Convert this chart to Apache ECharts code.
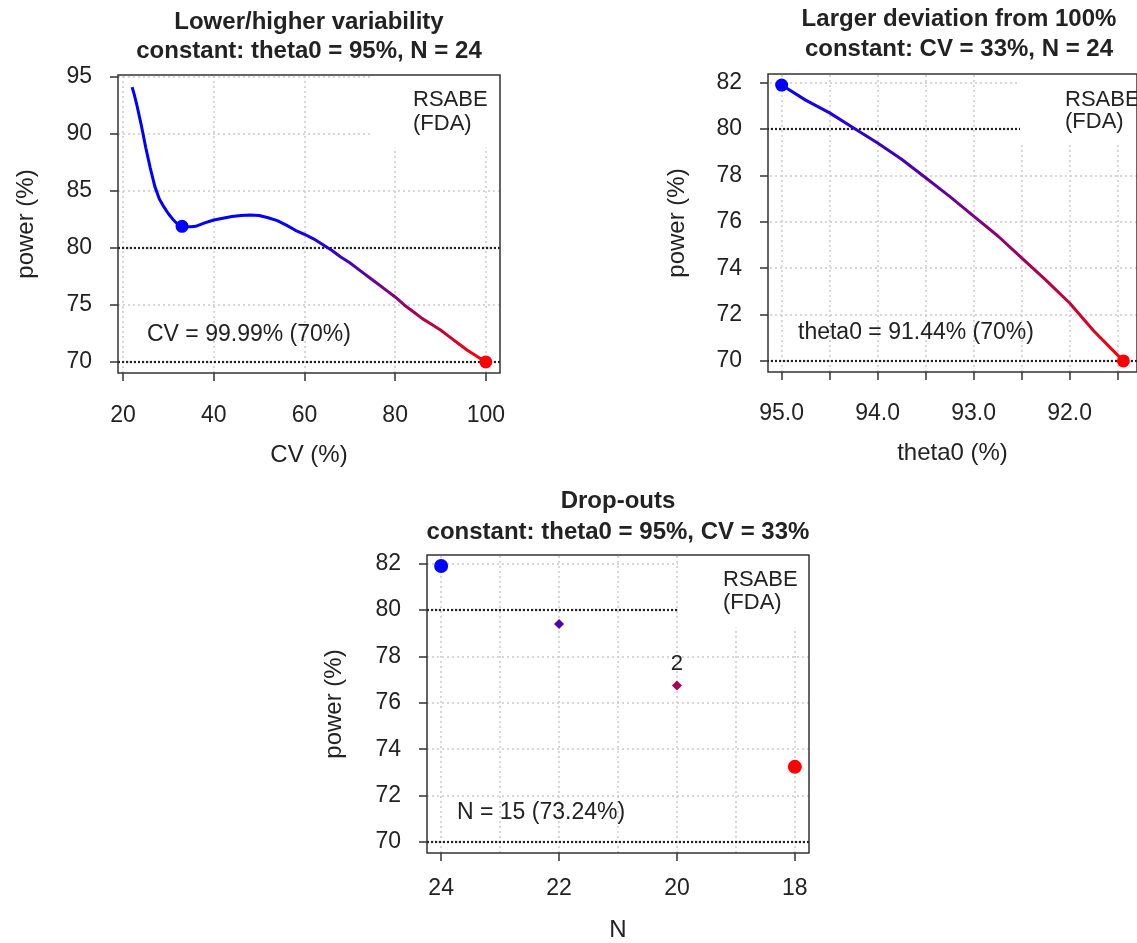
<!DOCTYPE html>
<html>
<head>
<meta charset="utf-8">
<title>Power analysis RSABE (FDA)</title>
<script src="https://cdn.jsdelivr.net/npm/echarts@6/dist/echarts.min.js"></script>
<style>
html, body { margin: 0; padding: 0; background: #fff; }
#chart { width: 1137px; height: 943px; }
</style>
</head>
<body>
<div id="chart"></div>
<script>
// panel 1: lower/higher variability
const cvValues = [22, 22.5, 23, 24, 25, 26, 27, 28, 29, 30, 31, 32, 33, 34, 35, 36, 38, 40, 42, 44, 46, 48, 50,
  52, 54, 56, 58, 60, 62, 64, 66, 68, 70, 72, 74, 76, 78, 80, 82, 84, 86, 88, 90, 92, 94, 96, 98, 100];
const cvPower = [94.1, 93.4, 92.6, 90.8, 88.8, 87.0, 85.4, 84.3, 83.6, 83.0, 82.5, 82.1, 81.9, 81.85, 81.85, 81.9,
  82.2, 82.45, 82.6, 82.75, 82.85, 82.9, 82.85, 82.65, 82.4, 82.0, 81.55, 81.2, 80.8, 80.3, 79.8, 79.2, 78.7,
  78.1, 77.5, 76.9, 76.3, 75.7, 75.0, 74.4, 73.8, 73.3, 72.8, 72.2, 71.6, 71.0, 70.5, 70.0];
const cvEnds = [[33, 81.9], [99.99, 70]];

// panel 2: larger deviation from 100%
const thetaValues = [95.0, 94.75, 94.5, 94.25, 94.0, 93.75, 93.5, 93.25, 93.0, 92.75, 92.5, 92.25, 92.0, 91.75, 91.5, 91.44];
const thetaPower = [81.9, 81.25, 80.7, 80.05, 79.4, 78.7, 77.9, 77.1, 76.25, 75.4, 74.45, 73.5, 72.5, 71.3, 70.25, 70.0];
const thetaEnds = [[95, 81.9], [91.44, 70]];

// panel 3: drop-outs
const dropN = [24, 22, 20, 18];
const dropPower = [81.9, 79.4, 76.75, 73.24];
const dropLabels = ['', '', '2', ''];

// ticks, grid lines, reference power (target / minimum)
const cvTicks = [20, 40, 60, 80, 100];
const power1Ticks = [70, 75, 80, 85, 90, 95];
const thetaTicks = [95, 94.5, 94, 93.5, 93, 92.5, 92, 91.5];
const thetaLabels = [95, 94, 93, 92];
const power2Ticks = [70, 72, 74, 76, 78, 80, 82];
const nTicks = [24, 22, 20, 18];
const nGrid = [24, 23, 22, 21, 20, 19, 18];
const refPower = [80, 70];

const FONT = '"Liberation Sans", Arial, sans-serif';
const TXT = '#222';

const chart = echarts.init(document.getElementById('chart'));

function xAx(i, min, max, ticks, labels, name, nameGap, margin, inverse, fmt) {
  return {
    type: 'value', gridIndex: i, min: min, max: max, inverse: inverse,
    name: name, nameLocation: 'middle', nameGap: nameGap,
    nameTextStyle: { fontFamily: FONT, fontSize: 24, color: TXT },
    axisLine: { show: false },
    axisTick: { show: true, length: 8, customValues: ticks, lineStyle: { color: '#333', width: 1.5 } },
    axisLabel: { customValues: labels, margin: margin, fontFamily: FONT, fontSize: 23, color: TXT, formatter: fmt },
    splitLine: { show: false }
  };
}
function yAx(i, min, max, ticks, nameGap) {
  return {
    type: 'value', gridIndex: i, min: min, max: max,
    name: 'power (%)', nameLocation: 'middle', nameGap: nameGap,
    nameTextStyle: { fontFamily: FONT, fontSize: 24, color: TXT },
    axisLine: { show: false },
    axisTick: { show: true, length: 8, customValues: ticks, lineStyle: { color: '#333', width: 1.5 } },
    axisLabel: { customValues: ticks, margin: 26, fontFamily: FONT, fontSize: 23, color: TXT },
    splitLine: { show: false }
  };
}
function gridLines(i, xs, ys) {
  return {
    type: 'line', xAxisIndex: i, yAxisIndex: i, data: [], z: 1, silent: true,
    markLine: {
      z: 1, symbol: 'none', silent: true, animation: false, label: { show: false },
      lineStyle: { color: '#cacaca', type: [2, 3], width: 1.5 },
      data: xs.map(v => ({ xAxis: v })).concat(ys.map(v => ({ yAxis: v })))
    }
  };
}
function refLines(i) {
  return {
    type: 'line', xAxisIndex: i, yAxisIndex: i, data: [], z: 1, silent: true,
    markLine: {
      z: 1, symbol: 'none', silent: true, animation: false, label: { show: false },
      lineStyle: { color: '#222', type: [2, 2], width: 2.2 },
      data: refPower.map(v => ({ yAxis: v }))
    }
  };
}
function txt(x, y, s, size, bold, align) {
  return {
    type: 'text', x: x, y: y, z: 10,
    style: {
      text: s, fill: TXT, textAlign: align || 'left', textVerticalAlign: 'middle',
      font: (bold ? 'bold ' : '') + size + 'px ' + FONT
    }
  };
}
function whiteBox(x, y, w, h) {
  return { type: 'rect', z: 2, shape: { x: x, y: y, width: w, height: h }, style: { fill: '#fff' } };
}

// the box border is drawn above everything else
const gridBox = { show: true, borderColor: '#333', borderWidth: 1.5, backgroundColor: 'transparent', z: 5 };
const dotStyle = { opacity: 1 };

const option = {
  animation: false,
  backgroundColor: '#fff',
  grid: [
    Object.assign({ left: 118, top: 75, width: 382, height: 298 }, gridBox),
    Object.assign({ left: 768, top: 74, width: 382, height: 298 }, gridBox),
    Object.assign({ left: 427, top: 555, width: 382, height: 298 }, gridBox)
  ],
  xAxis: [
    xAx(0, 18.88, 103.12, cvTicks, cvTicks, 'CV (%)', 70, 31, false),
    xAx(1, 91.298, 95.142, thetaTicks, thetaLabels, 'theta0 (%)', 69, 30, true, v => v.toFixed(1)),
    xAx(2, 17.76, 24.24, nTicks, nTicks, 'N', 65, 24, true)
  ],
  yAxis: [
    yAx(0, 69.03, 95.17, power1Ticks, 80),
    yAx(1, 69.524, 82.376, power2Ticks, 79),
    yAx(2, 69.524, 82.376, power2Ticks, 81)
  ],
  visualMap: [
    { type: 'continuous', show: false, seriesIndex: [6, 7, 8, 9], dimension: 1, min: 70, max: 82,
      inRange: { color: ['#ff0000', '#0000ff'] } },
    { type: 'continuous', show: false, seriesIndex: [10], dimension: 0, min: 18, max: 24,
      inRange: { color: ['#ff0000', '#0000ff'] } }
  ],
  series: [
    gridLines(0, cvTicks, power1Ticks),
    gridLines(1, thetaTicks, power2Ticks),
    gridLines(2, nGrid, power2Ticks),
    refLines(0),
    refLines(1),
    refLines(2),
    {
      type: 'line', xAxisIndex: 0, yAxisIndex: 0, z: 3, showSymbol: false, symbol: 'none',
      lineStyle: { width: 3 },
      data: cvValues.map((v, k) => [v, cvPower[k]])
    },
    {
      type: 'scatter', xAxisIndex: 0, yAxisIndex: 0, z: 4, symbolSize: 13, itemStyle: dotStyle,
      data: cvEnds
    },
    {
      type: 'line', xAxisIndex: 1, yAxisIndex: 1, z: 3, showSymbol: false, symbol: 'none',
      lineStyle: { width: 3 },
      data: thetaValues.map((v, k) => [v, thetaPower[k]])
    },
    {
      type: 'scatter', xAxisIndex: 1, yAxisIndex: 1, z: 4, symbolSize: 13, itemStyle: dotStyle,
      data: thetaEnds
    },
    {
      type: 'scatter', xAxisIndex: 2, yAxisIndex: 2, z: 4, itemStyle: dotStyle,
      symbol: (val, p) => (p.dataIndex === 0 || p.dataIndex === dropN.length - 1) ? 'circle' : 'diamond',
      symbolSize: (val, p) => (p.dataIndex === 0 || p.dataIndex === dropN.length - 1) ? 14 : 10,
      label: {
        show: true, position: 'top', distance: 6, color: TXT, fontFamily: FONT, fontSize: 22,
        formatter: p => dropLabels[p.dataIndex]
      },
      data: dropN.map((v, k) => [v, dropPower[k]])
    }
  ],
  graphic: [
    whiteBox(370, 76, 130, 71.5),
    whiteBox(1020, 75, 140, 68.5),
    whiteBox(678, 556, 131, 71.5),
    txt(309, 22, 'Lower/higher variability', 24, true, 'center'),
    txt(309, 51, 'constant: theta0 = 95%, N = 24', 24, true, 'center'),
    txt(959, 19, 'Larger deviation from 100%', 24, true, 'center'),
    txt(959, 49, 'constant: CV = 33%, N = 24', 24, true, 'center'),
    txt(618, 501, 'Drop-outs', 24, true, 'center'),
    txt(618, 532, 'constant: theta0 = 95%, CV = 33%', 24, true, 'center'),
    txt(413, 100, 'RSABE', 22),
    txt(413, 124, '(FDA)', 22),
    txt(1065, 100, 'RSABE', 22),
    txt(1065, 122, '(FDA)', 22),
    txt(723, 580, 'RSABE', 22),
    txt(723, 603, '(FDA)', 22),
    txt(147, 335, 'CV = 99.99% (70%)', 23),
    txt(798, 333, 'theta0 = 91.44% (70%)', 23),
    txt(457, 813, 'N = 15 (73.24%)', 23)
  ]
};

chart.setOption(option);
</script>
</body>
</html>
